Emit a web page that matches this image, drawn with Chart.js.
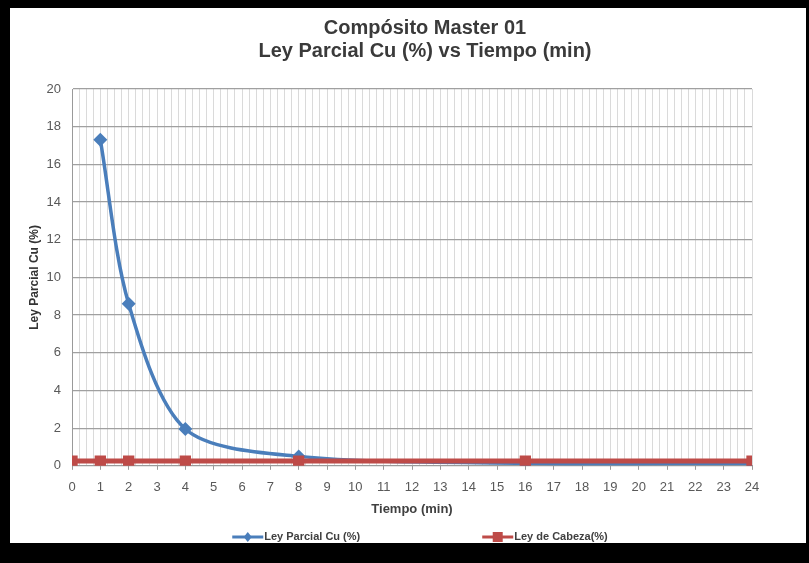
<!DOCTYPE html>
<html>
<head>
<meta charset="utf-8">
<script src="https://cdn.jsdelivr.net/npm/chart.js@4.4.1/dist/chart.umd.min.js"></script>
<style>
	html, body { margin: 0; padding: 0; background: #000; }
	#frame { position: absolute; left: 10px; top: 8px; width: 796px; height: 535px; background: #fff; }
	canvas { display: block; }
</style>
</head>
<body>
<div id="frame"><canvas id="chartLey" width="796" height="535"></canvas></div>
<script>
'use strict'

const titleLines = ['Compósito Master 01', 'Ley Parcial Cu (%) vs Tiempo (min)'];
const xTitle = 'Tiempo (min)';
const yTitle = 'Ley Parcial Cu (%)';
const seriesNames = ['Ley Parcial Cu (%)', 'Ley de Cabeza(%)'];
const tiempoParcial = [1, 2, 4, 8, 16, 24];
const leyParcial = [17.3, 8.6, 1.95, 0.5, 0.14, 0.12];
const tiempoCabeza = [0, 1, 2, 4, 8, 16, 24];
const leyCabeza = [0.25, 0.25, 0.25, 0.25, 0.25, 0.25, 0.25];

const colors = {
	blue: '#4a7ebb',
	red: '#be4b48',
	text: '#595959',
	title: '#3a3a3a',
	gridMajor: '#a0a0a0',
	gridMinor: '#dadada',
	axis: '#9a9a9a',
};

const font = 'Liberation Sans';

// legend drawn under the axis title: line + marker, then the label
const legendPlugin = {
	id: 'excelLegend',
	afterDraw(chart) {
		const ctx = chart.ctx;
		const symW = 31, gap = 122;
		ctx.save();
		ctx.font = 'bold 11px "' + font + '"';
		const items = chart.data.datasets.map((ds) => ({
			ds: ds,
			w: symW + 1 + ctx.measureText(ds.label).width,
		}));
		const total = items.reduce((s, it) => s + it.w, 0) + gap * (items.length - 1);
		let x = chart.width / 2 + 12 - total / 2;
		const y = chart.height - 6;
		items.forEach((it) => {
			const c = it.ds.borderColor;
			ctx.strokeStyle = c;
			ctx.fillStyle = c;
			ctx.lineWidth = 3;
			ctx.beginPath();
			ctx.moveTo(x, y);
			ctx.lineTo(x + symW, y);
			ctx.stroke();
			const cx = x + symW / 2;
			ctx.beginPath();
			if (it.ds.pointStyle === 'rectRot') {
				ctx.moveTo(cx, y - 5); ctx.lineTo(cx + 4, y); ctx.lineTo(cx, y + 5); ctx.lineTo(cx - 4, y);
			} else {
				ctx.rect(cx - 5, y - 5, 10, 10);
			}
			ctx.closePath();
			ctx.fill();
			ctx.fillStyle = '#404040';
			ctx.textBaseline = 'middle';
			ctx.fillText(it.ds.label, x + symW + 1, y);
			x += it.w + gap;
		});
		ctx.restore();
	},
};

const toPoints = (xs, ys) => xs.map((x, i) => ({ x: x, y: ys[i] }));

let chart = new Chart(document.getElementById('chartLey'), {
	type: 'line',
	data: {
		datasets: [
			{
				label: seriesNames[0],
				data: toPoints(tiempoParcial, leyParcial),
				borderColor: colors.blue,
				backgroundColor: colors.blue,
				borderWidth: 3.5,
				pointStyle: 'rectRot',
				pointRadius: 7,
				pointBorderWidth: 0,
				tension: 0.3,
				order: 1,
			},
			{
				label: seriesNames[1],
				data: toPoints(tiempoCabeza, leyCabeza),
				borderColor: colors.red,
				backgroundColor: colors.red,
				borderWidth: 5,
				pointStyle: 'rect',
				pointRadius: 8,
				pointBorderWidth: 0,
				order: 0,
			},
		],
	},
	plugins: [legendPlugin],
	options: {
		responsive: false,
		animation: false,
		layout: {
			padding: { left: 34, right: 0, top: 0, bottom: 26 },
		},
		plugins: {
			title: {
				display: true,
				text: titleLines,
				color: colors.title,
				font: { family: font, size: 20, weight: 'bold', lineHeight: 1.15 },
				padding: { top: 9, bottom: 26 },
			},
			legend: { display: false },
			tooltip: { enabled: false },
		},
		scales: {
			x: {
				type: 'linear',
				min: 0,
				max: 24,
				border: { color: colors.axis },
				title: {
					display: true,
					text: xTitle,
					color: '#404040',
					font: { family: font, size: 13, weight: 'bold' },
					padding: { top: -4, bottom: 0 },
				},
				ticks: {
					stepSize: 0.25,
					autoSkip: false,
					maxRotation: 0,
					color: colors.text,
					padding: 10,
					font: { family: font, size: 13 },
					callback: (v) => (Number.isInteger(v) ? String(v) : ''),
				},
				grid: {
					color: colors.gridMinor,
					tickLength: 4,
					tickColor: (ctx) => (ctx.tick && Number.isInteger(ctx.tick.value) ? colors.axis : 'rgba(0,0,0,0)'),
				},
			},
			y: {
				min: 0,
				max: 20,
				border: { color: colors.axis },
				afterFit: (scale) => { scale.width = 28; },
				title: {
					display: true,
					text: yTitle,
					color: '#333333',
					font: { family: font, size: 12, weight: 'bold' },
					padding: { top: -17, bottom: 4 },
				},
				ticks: {
					stepSize: 2,
					color: colors.text,
					padding: 11,
					font: { family: font, size: 13 },
				},
				grid: {
					color: colors.gridMajor,
					lineWidth: 1.2,
					tickLength: 0,
				},
			},
			// empty right-hand scale, only keeps the white margin right of the plot
			yRight: {
				position: 'right',
				display: true,
				afterFit: (scale) => { scale.width = 54; },
				ticks: { display: false },
				grid: { display: false, drawTicks: false },
				border: { display: false },
			},
		},
	},
});
</script>
</body>
</html>
